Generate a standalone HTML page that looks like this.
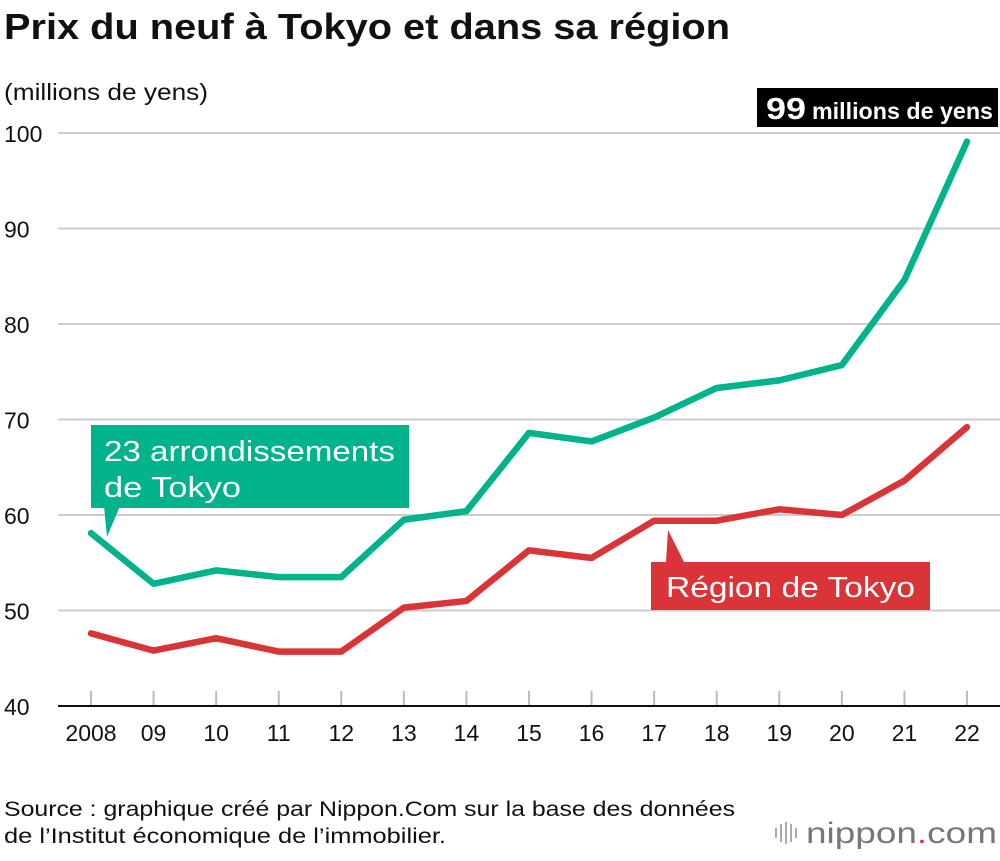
<!DOCTYPE html>
<html><head><meta charset="utf-8"><style>
body{margin:0;background:#fff;width:1000px;height:856px;overflow:hidden;font-family:"Liberation Sans",sans-serif}
</style></head><body>
<svg width="1000" height="856" xmlns="http://www.w3.org/2000/svg" font-family="Liberation Sans, sans-serif" id="chart">
<text x="4" y="39" font-size="36" font-weight="bold" fill="#111" textLength="726" lengthAdjust="spacingAndGlyphs">Prix du neuf à Tokyo et dans sa région</text>
<text x="4" y="100" font-size="23" fill="#111" textLength="204" lengthAdjust="spacingAndGlyphs">(millions de yens)</text>
<g id="grid"></g>
<g id="xaxis"></g>
<g id="series"></g>
<g>
<polygon points="104,506 120,506 107,537" fill="#00b38b"/>
<rect x="91" y="425" width="318" height="83" fill="#00b38b"/>
<text x="104" y="461" font-size="29" fill="#fff" textLength="291" lengthAdjust="spacingAndGlyphs">23 arrondissements</text>
<text x="104" y="497" font-size="29" fill="#fff" textLength="137" lengthAdjust="spacingAndGlyphs">de Tokyo</text>
</g>
<g>
<polygon points="666,562 684,562 668,530" fill="#d93538"/>
<rect x="651" y="562" width="279" height="48" fill="#d93538"/>
<text x="666" y="597" font-size="29" fill="#fff" textLength="249" lengthAdjust="spacingAndGlyphs">Région de Tokyo</text>
</g>
<g>
<rect x="757" y="88" width="241" height="39" fill="#000"/>
<text x="766" y="119" font-size="31" font-weight="bold" fill="#fff" textLength="40" lengthAdjust="spacingAndGlyphs">99</text>
<text x="812" y="119" font-size="23" font-weight="bold" fill="#fff" textLength="181" lengthAdjust="spacingAndGlyphs">millions de yens</text>
</g>
<text x="4" y="816" font-size="21" fill="#111" textLength="731" lengthAdjust="spacingAndGlyphs">Source : graphique créé par Nippon.Com sur la base des données</text>
<text x="4" y="843" font-size="21" fill="#111" textLength="442" lengthAdjust="spacingAndGlyphs">de l’Institut économique de l’immobilier.</text>
<g>
<g stroke="#aaa" stroke-width="2"><line x1="776" y1="828" x2="776" y2="838"/><line x1="781" y1="824" x2="781" y2="842"/><line x1="786" y1="822" x2="786" y2="844"/><line x1="791" y1="824" x2="791" y2="842"/><line x1="796" y1="828" x2="796" y2="838"/></g>
<text x="806" y="843" font-size="30" fill="#777" textLength="191" lengthAdjust="spacingAndGlyphs">nippon<tspan fill="#d93538">.</tspan>com</text>
</g>
</svg>
<script>
const years=["2008","09","10","11","12","13","14","15","16","17","18","19","20","21","22"];
const tokyo23=[58.1,52.8,54.2,53.5,53.5,59.5,60.4,68.6,67.7,70.2,73.3,74.1,75.7,84.6,99.1];
const region=[47.6,45.8,47.1,45.7,45.7,50.3,51.0,56.3,55.5,59.4,59.4,60.6,60.0,63.6,69.2];
const yTicks=[40,50,60,70,80,90,100];
const NS="http://www.w3.org/2000/svg";
const xs=i=>91+i*(876/14);
const ys=v=>706-(v-40)*(573/60);
function mk(tag,attrs,parent,txt){const e=document.createElementNS(NS,tag);for(const k in attrs)e.setAttribute(k,attrs[k]);if(txt!==undefined)e.textContent=txt;parent.appendChild(e);return e;}
const grid=document.getElementById('grid');
yTicks.forEach(t=>{
  if(t>40){const l=mk('line',{x1:58,x2:1000,y1:ys(t),y2:ys(t),stroke:'#ccc','stroke-width':2},grid);
  
  }
  const tx=mk('text',{x:4,y:ys(t)+9,'font-size':23,fill:'#111'},grid,String(t));
  
  
});
const xa=document.getElementById('xaxis');
const ax=mk('line',{x1:58,x2:1000,y1:706,y2:706,stroke:'#111','stroke-width':2},xa);


years.forEach((y,i)=>{
  mk('line',{x1:xs(i),x2:xs(i),y1:691,y2:705,stroke:'#bbb','stroke-width':2},xa);
  const t=mk('text',{x:xs(i),y:741,'font-size':23,fill:'#111','text-anchor':'middle'},xa,y);
  
  
});
const sg=document.getElementById('series');
function line(vals,color,name){
  const p=mk('polyline',{points:vals.map((v,i)=>xs(i)+','+ys(v)).join(' '),fill:'none',stroke:color,'stroke-width':6.5,'stroke-linejoin':'round','stroke-linecap':'round'},sg);
  
  
}
line(region,'#d93538','line-region-tokyo');
line(tokyo23,'#00b38b','line-23-arrondissements');
</script>
</body></html>
